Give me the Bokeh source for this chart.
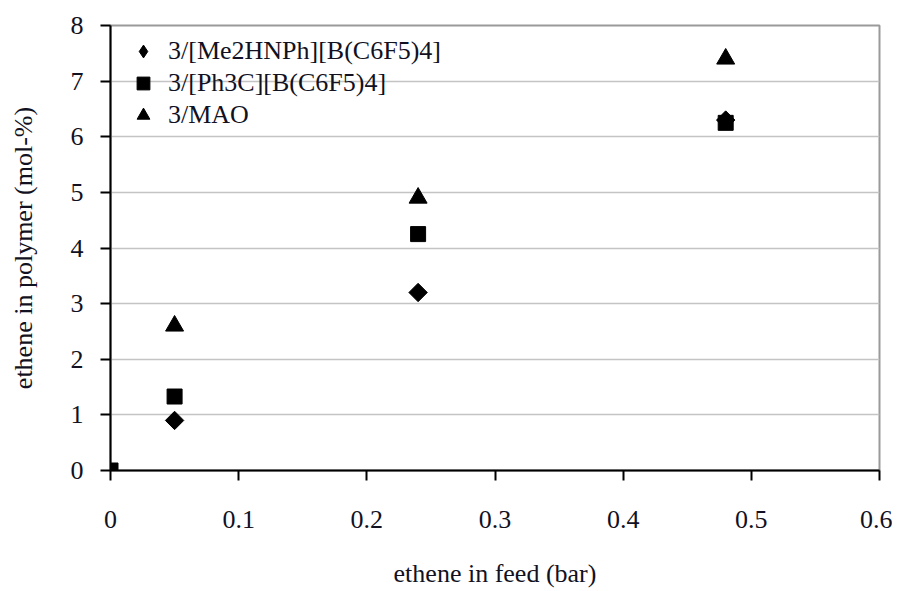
import math
from bokeh.plotting import figure
from bokeh.models import (FixedTicker, Legend, LegendItem, Range1d,
                          ColumnDataSource)
from bokeh.embed import file_html
from bokeh.resources import INLINE

# ---- data ----
feed_me2hnph = [0.05, 0.24, 0.48]
val_me2hnph = [0.9, 3.2, 6.3]
feed_ph3c = [0.0, 0.05, 0.24, 0.48]
val_ph3c = [0.0, 1.33, 4.25, 6.25]
feed_mao = [0.05, 0.24, 0.48]
val_mao = [2.6, 4.9, 7.4]
series_names = ["3/[Me2HNPh][B(C6F5)4]", "3/[Ph3C][B(C6F5)4]", "3/MAO"]

x_ticks = [0, 0.1, 0.2, 0.3, 0.4, 0.5, 0.6]
x_tick_labels = ["0", "0.1", "0.2", "0.3", "0.4", "0.5", "0.6"]
y_ticks = [0, 1, 2, 3, 4, 5, 6, 7, 8]
y_tick_labels = ["0", "1", "2", "3", "4", "5", "6", "7", "8"]

FONT = "Liberation Serif"
FS = "26px"
TXT = "#111122"

p = figure(width=892, height=591, output_backend="svg", toolbar_location=None,
           x_range=Range1d(0, 0.6), y_range=Range1d(0, 8),
           min_border_left=110, min_border_top=25, min_border_right=13,
           min_border_bottom=121)
p.background_fill_color = "white"
p.border_fill_color = "white"
p.outline_line_color = "#9a9a9a"
p.outline_line_width = 2

p.xgrid.grid_line_color = None
p.ygrid.grid_line_color = "#c4c4c4"
p.ygrid.grid_line_width = 1.5

for ax in (p.xaxis[0], p.yaxis[0]):
    ax.axis_line_color = "black"
    ax.axis_line_width = 2
    ax.major_tick_line_color = "black"
    ax.major_tick_line_width = 2
    ax.major_tick_in = 0
    ax.major_tick_out = 10
    ax.minor_tick_line_color = None
    ax.major_label_text_font = FONT
    ax.major_label_text_font_size = FS
    ax.major_label_text_color = TXT
    ax.axis_label_text_font = FONT
    ax.axis_label_text_font_size = FS
    ax.axis_label_text_font_style = "normal"
    ax.axis_label_text_color = TXT

p.xaxis.ticker = FixedTicker(ticks=x_ticks)
p.yaxis.ticker = FixedTicker(ticks=y_ticks)
p.xaxis.major_label_overrides = dict(zip(x_ticks, x_tick_labels))
p.yaxis.major_label_overrides = dict(zip(y_ticks, y_tick_labels))
p.xaxis.axis_label = "ethene in feed (bar)"
p.yaxis.axis_label = "ethene in polymer (mol-%)"
p.xaxis.major_label_standoff = 30
p.xaxis.axis_label_standoff = 28
p.yaxis.major_label_standoff = 17
p.yaxis.axis_label_standoff = 30

src_me2hnph = ColumnDataSource(dict(x=feed_me2hnph, y=val_me2hnph))

# narrow diamond used as the legend symbol; it lies fully under the
# square-shaped diamonds drawn on top of it
r1_leg = p.scatter("x", "y", source=src_me2hnph, marker="diamond",
                   size=13, color="black")
r1 = p.scatter("x", "y", source=src_me2hnph, marker="square",
               angle=math.pi / 4, size=13, color="black")
r3 = p.scatter(feed_mao, val_mao, marker="triangle", size=18, color="black")
r2 = p.scatter(feed_ph3c, val_ph3c, marker="square", size=15, color="black")

legend = Legend(items=[LegendItem(label=series_names[0], renderers=[r1_leg]),
                       LegendItem(label=series_names[1], renderers=[r2]),
                       LegendItem(label=series_names[2], renderers=[r3])],
                location=(17, 339), orientation="vertical")
legend.label_text_font = FONT
legend.label_text_font_size = FS
legend.label_text_color = TXT
legend.glyph_width = 32
legend.glyph_height = 32
legend.label_height = 32
legend.label_standoff = 9
legend.spacing = 0
legend.padding = 0
legend.margin = 0
legend.border_line_color = None
legend.background_fill_alpha = 0
p.add_layout(legend)

open("out.html", "w").write(file_html(p, INLINE))
